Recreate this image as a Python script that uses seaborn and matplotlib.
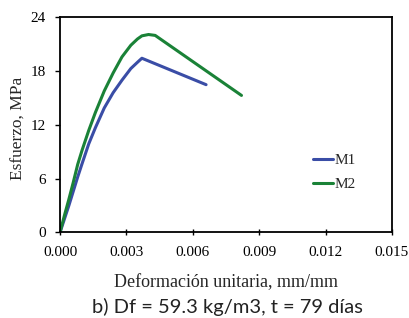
import matplotlib
matplotlib.use("Agg")
import matplotlib.pyplot as plt
import seaborn as sns
import pandas as pd

# Curve data
m1_strain = [0.0, 0.0002, 0.0004, 0.0006, 0.0008, 0.0010, 0.0013, 0.0016, 0.0020,
             0.0024, 0.0028, 0.0032, 0.0035, 0.0037, 0.0066]
m1_stress = [0.0, 1.5, 3.0, 4.6, 6.2, 7.7, 9.9, 11.7, 13.9,
             15.6, 17.0, 18.3, 19.0, 19.45, 16.5]
m2_strain = [0.0, 0.0002, 0.0004, 0.0006, 0.0008, 0.0010, 0.0013, 0.0016, 0.0020,
             0.0024, 0.0028, 0.0032, 0.0035, 0.0037, 0.0040, 0.0043, 0.0082]
m2_stress = [0.0, 1.9, 3.7, 5.6, 7.6, 9.2, 11.4, 13.4, 15.8,
             17.8, 19.6, 20.9, 21.6, 21.95, 22.1, 22.0, 15.3]

x_ticks = [0.000, 0.003, 0.006, 0.009, 0.012, 0.015]
y_ticks = [0, 6, 12, 18, 24]

df = pd.concat([
    pd.DataFrame({'strain': m1_strain, 'stress': m1_stress, 'serie': 'M1'}),
    pd.DataFrame({'strain': m2_strain, 'stress': m2_stress, 'serie': 'M2'}),
], ignore_index=True)

sns.set_style("white")
plt.rcParams['font.family'] = ['Liberation Serif', 'DejaVu Serif']

fig = plt.figure(figsize=(4.09, 3.18), dpi=100)
ax = fig.add_axes([0.1467, 0.269, 0.8117, 0.676])

sns.lineplot(data=df, x='strain', y='stress', hue='serie', sort=False,
             palette={'M1': '#3A4DA6', 'M2': '#1A8237'}, linewidth=2.2,
             ax=ax)

ax.set_xlim(0, 0.015)
ax.set_ylim(0, 24)
ax.set_xticks(x_ticks)
ax.set_xticklabels([f'{t:.3f}' for t in x_ticks])
ax.set_yticks(y_ticks)
for s in ax.spines.values():
    s.set_color('black')
    s.set_linewidth(1.3)
ax.tick_params(axis='x', direction='inout', length=5, width=1, pad=7.5,
               labelsize=11, colors='black', bottom=True)
ax.tick_params(axis='y', direction='out', length=3.6, width=1, pad=6.5,
               labelsize=11, colors='black', left=True)

ax.set_xlabel('Deformación unitaria, mm/mm', fontsize=13)
ax.xaxis.label.set_va('baseline')
ax.xaxis.set_label_coords(0.5, -0.2535)
ax.set_ylabel('Esfuerzo, MPa', fontsize=12.5)
ax.yaxis.label.set_va('center')
ax.yaxis.set_label_coords(-0.125, 0.486)

leg = ax.legend(loc='upper left', bbox_to_anchor=(0.762, 0.367), frameon=False,
                fontsize=11, handlelength=1.3, handletextpad=0.1,
                labelspacing=0.65, borderpad=0, borderaxespad=0, title=None)

fig.text(0.555, 0.0157, 'b) Df = 59.3 kg/m3, t = 79 días', ha='center',
         va='baseline', fontsize=14.5, color='#222222',
         family=['Lato', 'DejaVu Sans'])

fig.savefig('out.png', dpi=100)
